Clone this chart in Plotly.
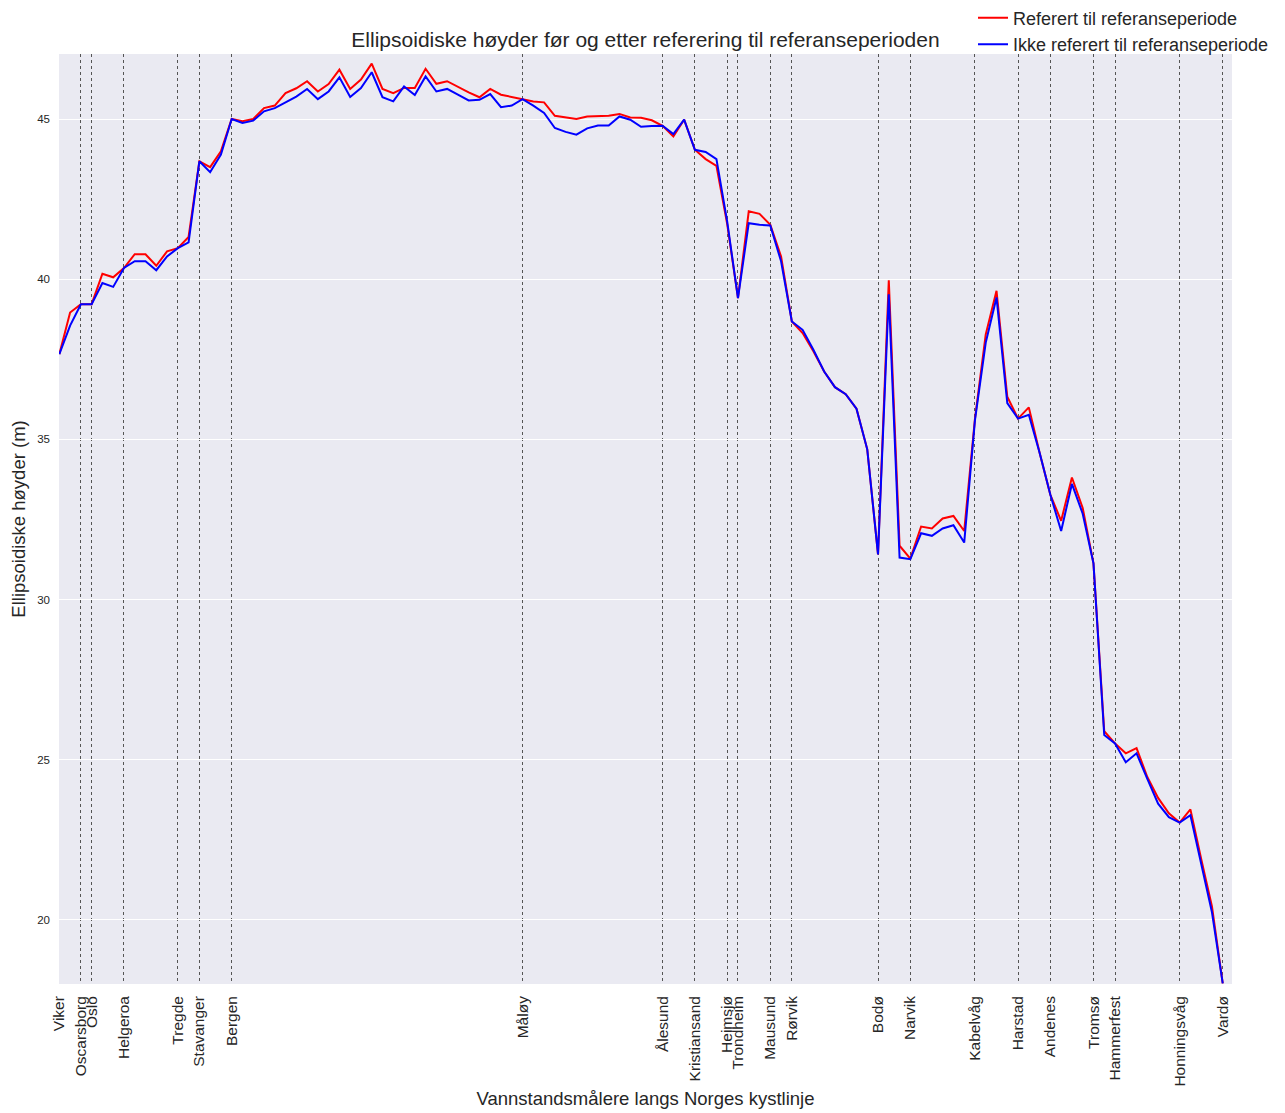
import plotly.graph_objects as go

# Station tick labels (index along the coastline, name)
station_idx = [0, 2, 3, 6, 11, 13, 16, 43, 56, 59, 62, 63, 66, 68, 76, 79, 85, 89, 92, 96, 98, 104, 108]
station_names = ["Viker", "Oscarsborg", "Oslo", "Helgeroa", "Tregde", "Stavanger", "Bergen", "Måløy",
                 "Ålesund", "Kristiansand", "Heimsjø", "Trondheim", "Mausund", "Rørvik", "Bodø", "Narvik",
                 "Kabelvåg", "Harstad", "Andenes", "Tromsø", "Hammerfest", "Honningsvåg", "Vardø"]

referert = [
    37.66, 38.96, 39.22, 39.22, 40.17, 40.06, 40.35, 40.78, 40.78, 40.42,
    40.87, 40.97, 41.32, 43.68, 43.50, 43.99, 45.00, 44.93, 45.00, 45.34,
    45.42, 45.81, 45.96, 46.18, 45.86, 46.09, 46.54, 45.94, 46.23, 46.73,
    45.94, 45.81, 45.97, 45.97, 46.57, 46.10, 46.18, 46.00, 45.83, 45.68,
    45.94, 45.76, 45.68, 45.62, 45.55, 45.52, 45.10, 45.06, 45.00, 45.08,
    45.08, 45.10, 45.16, 45.05, 45.04, 44.96, 44.79, 44.46, 44.98, 44.04,
    43.75, 43.54, 41.72, 39.41, 42.12, 42.04, 41.70, 40.71, 38.68, 38.32,
    37.75, 37.12, 36.63, 36.41, 35.96, 34.69, 31.41, 39.97, 31.68, 31.28,
    32.28, 32.22, 32.53, 32.61, 32.14, 35.65, 38.28, 39.64, 36.33, 35.65,
    36.00, 34.58, 33.27, 32.46, 33.81, 32.86, 31.13, 25.89, 25.51, 25.20,
    25.36, 24.46, 23.81, 23.33, 23.04, 23.45, 21.90, 20.42, 18.02,
]

ikke_referert = [
    37.66, 38.55, 39.22, 39.22, 39.88, 39.76, 40.35, 40.56, 40.56, 40.28,
    40.71, 40.97, 41.15, 43.68, 43.34, 43.89, 45.00, 44.88, 44.95, 45.24,
    45.34, 45.52, 45.70, 45.94, 45.62, 45.86, 46.30, 45.69, 45.97, 46.46,
    45.68, 45.55, 46.02, 45.75, 46.33, 45.86, 45.94, 45.76, 45.58, 45.60,
    45.78, 45.37, 45.42, 45.62, 45.42, 45.19, 44.72, 44.60, 44.51, 44.71,
    44.80, 44.80, 45.08, 44.98, 44.76, 44.78, 44.79, 44.53, 44.98, 44.04,
    43.97, 43.75, 41.80, 39.41, 41.75, 41.70, 41.68, 40.56, 38.68, 38.42,
    37.80, 37.12, 36.63, 36.41, 35.96, 34.69, 31.41, 39.53, 31.31, 31.26,
    32.07, 31.99, 32.22, 32.32, 31.78, 35.60, 38.02, 39.43, 36.13, 35.65,
    35.77, 34.58, 33.27, 32.14, 33.61, 32.68, 31.13, 25.77, 25.51, 24.92,
    25.20, 24.40, 23.63, 23.21, 23.04, 23.27, 21.79, 20.24, 18.02,
]

x_index = list(range(len(referert)))

FONT = "Liberation Sans, Arial, sans-serif"
TXT = "#262626"

# The page body has an 8px margin, so the figure is sized 8px smaller
W, H = 1277, 1105

fig = go.Figure()
fig.add_trace(go.Scatter(x=x_index, y=referert, mode="lines", name="Referert til referanseperiode",
                         line=dict(color="#ff0000", width=2)))
fig.add_trace(go.Scatter(x=x_index, y=ikke_referert, mode="lines", name="Ikke referert til referanseperiode",
                         line=dict(color="#0000ff", width=2)))

fig.update_layout(
    width=W, height=H,
    margin=dict(l=51, r=53, t=46, b=129, autoexpand=False),
    paper_bgcolor="white",
    plot_bgcolor="#EAEAF2",
    font=dict(family=FONT, color=TXT),
    title=dict(text="Ellipsoidiske høyder før og etter referering til referanseperioden",
               x=0.5, xref="paper", xanchor="center", y=1 - 32 / H, yanchor="middle",
               font=dict(size=21, color=TXT)),
    legend=dict(x=0.7792, y=1.0585, xanchor="left", yanchor="top", bgcolor="rgba(0,0,0,0)",
                font=dict(size=18, color=TXT), tracegroupgap=0),
    showlegend=True,
)

fig.update_xaxes(
    range=[-0.03, 108.86],
    tickmode="array", tickvals=station_idx, ticktext=station_names,
    tickangle=-90, tickfont=dict(size=15.5, color=TXT), ticklabelstandoff=8,
    showgrid=True, gridcolor="#555555", gridwidth=1, griddash="dot",
    zeroline=False, showline=False, ticks="", automargin=False,
    title=dict(text="Vannstandsmålere langs Norges kystlinje", font=dict(size=18.5, color=TXT), standoff=6),
)
fig.update_yaxes(
    range=[18.0, 47.03],
    tickvals=[20, 25, 30, 35, 40, 45],
    tickfont=dict(size=11.5, color=TXT), ticklabelstandoff=8,
    showgrid=True, gridcolor="white", gridwidth=1.3,
    zeroline=False, showline=False, ticks="", automargin=False,
    title=dict(text="Ellipsoidiske høyder (m)", font=dict(size=18.5, color=TXT)),
)

fig.write_html("out.html")
